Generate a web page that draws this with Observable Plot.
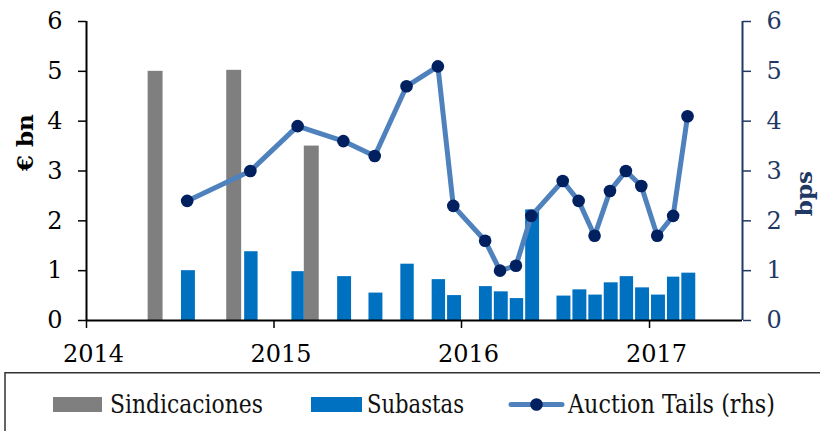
<!DOCTYPE html>
<html><head><meta charset="utf-8">
<script src="https://cdn.jsdelivr.net/npm/d3@7"></script>
<script src="https://cdn.jsdelivr.net/npm/@observablehq/plot@0.6"></script>
<style>
body{margin:0;background:#fff;width:820px;height:431px;overflow:hidden;position:relative;font-family:"DejaVu Serif",serif;}
#legend{position:absolute;left:0;top:372px;}
</style></head><body>
<div id="chart"></div>
<div id="legend"></div>
<script>
// ---- data ----
const sindMonths = ["2014-05", "2014-10", "2015-03"];
const sindValues = [5.0, 5.02, 3.5];
const subMonths = ["2014-07","2014-11","2015-02","2015-05","2015-07","2015-09","2015-11","2015-12",
  "2016-02","2016-03","2016-04","2016-05","2016-07","2016-08","2016-09","2016-10","2016-11","2016-12",
  "2017-01","2017-02","2017-03"];
const subValues = [1.0, 1.38, 0.98, 0.88, 0.55, 1.13, 0.82, 0.50, 0.68, 0.575, 0.44, 2.22, 0.49, 0.615,
  0.51, 0.756, 0.88, 0.655, 0.51, 0.87, 0.95];
const tailMonths = subMonths;
const tailValues = [2.4, 3.0, 3.9, 3.6, 3.3, 4.7, 5.1, 2.3, 1.6, 1.0, 1.1, 2.1, 2.8, 2.4, 1.7, 2.6, 3.0,
  2.7, 1.7, 2.1, 4.1];
const yearTicks = [2014, 2015, 2016, 2017];
const yTicks = [0, 1, 2, 3, 4, 5, 6];
const legendLabels = ["Sindicaciones", "Subastas", "Auction Tails (rhs)"];
const axisLabels = {left: "€ bn", right: "bps"};

// ---- build ----
const parse = d3.utcParse("%Y-%m");
const sind = sindMonths.map((m, i) => ({start: parse(m), end: d3.utcMonth.offset(parse(m), 1), value: sindValues[i]}));
const sub = subMonths.map((m, i) => ({start: parse(m), end: d3.utcMonth.offset(parse(m), 1), value: subValues[i]}));
const tails = tailMonths.map((m, i) => ({date: d3.utcDay.offset(parse(m), 15), value: tailValues[i]}));
const xDomain = [new Date(Date.UTC(2014, 0, 1)), new Date(Date.UTC(2017, 6, 1))];
const xTickDates = yearTicks.map(y => new Date(Date.UTC(y, 0, 1)));

const GRAY = "#7F7F7F", BLUE = "#0070C0", LINE = "#4F81BD", DOT = "#002060", NAVY = "#1F3864";
const FS = 24;

const chart = Plot.plot({
  width: 820, height: 372,
  marginLeft: 86, marginRight: 78, marginTop: 21, marginBottom: 52,
  style: {fontFamily: "DejaVu Serif, serif", fontSize: FS + "px", background: "white", overflow: "visible"},
  x: {type: "utc", domain: xDomain},
  y: {domain: [0, 6]},
  marks: [
    Plot.rectY(sind, {x1: "start", x2: "end", y: "value", fill: GRAY, insetRight: 1}),
    Plot.rectY(sub, {x1: "start", x2: "end", y: "value", fill: BLUE, insetLeft: 2}),
    Plot.line(tails, {x: "date", y: "value", stroke: LINE, strokeWidth: 5}),
    Plot.dot(tails, {x: "date", y: "value", r: 6.3, fill: DOT, stroke: "none"}),
    Plot.ruleY([0], {stroke: "black", strokeWidth: 2}),
    Plot.ruleX([xDomain[0]], {stroke: "black", strokeWidth: 2}),
    Plot.ruleX([xDomain[1]], {stroke: NAVY, strokeWidth: 2}),
    Plot.axisX({ticks: xTickDates, tickFormat: () => "", tickSize: 8, label: null, color: "black", strokeWidth: 1.5}),
    Plot.axisX({ticks: xTickDates, tickFormat: "%Y", tickSize: 0, tickPadding: 24, dx: 7, label: null, color: "black", fontSize: FS}),
    Plot.axisY({anchor: "left", ticks: yTicks, tickFormat: "d", tickSize: 8, tickPadding: 16, label: null, color: "black", strokeWidth: 1.5, fontSize: FS}),
    Plot.axisY({anchor: "right", ticks: yTicks, tickFormat: "d", tickSize: 8, tickPadding: 16, label: null, color: NAVY, strokeWidth: 1.5, fontSize: FS}),
    Plot.text([axisLabels.left], {text: d => d, frameAnchor: "left", dx: -61, rotate: -90, fontWeight: "bold", fontSize: 23, fill: "black"}),
    Plot.text([axisLabels.right], {text: d => d, frameAnchor: "right", dx: 62, rotate: -90, fontWeight: "bold", fontSize: 23, fill: NAVY})
  ]
});
document.getElementById("chart").append(chart);

// ---- legend ----
const lg = d3.select("#legend").append("svg").attr("width", 820).attr("height", 59);
lg.append("rect").attr("x", 5).attr("y", 0.75).attr("width", 900).attr("height", 100)
  .attr("fill", "none").attr("stroke", "#333").attr("stroke-width", 1.5);
const items = [
  {label: legendLabels[0], kind: "rect", color: GRAY, sx: 53, sw: 49, tx: 110, tw: 153},
  {label: legendLabels[1], kind: "rect", color: BLUE, sx: 311, sw: 51, tx: 367, tw: 97},
  {label: legendLabels[2], kind: "line", color: LINE, sx: 509, sw: 55, tx: 568, tw: 207}
];
for (const it of items) {
  if (it.kind === "rect") {
    lg.append("rect").attr("x", it.sx).attr("y", 25).attr("width", it.sw).attr("height", 15).attr("fill", it.color);
  } else {
    lg.append("line").attr("x1", it.sx + 2).attr("x2", it.sx + it.sw - 2).attr("y1", 32.5).attr("y2", 32.5)
      .attr("stroke", it.color).attr("stroke-width", 5).attr("stroke-linecap", "round");
    lg.append("circle").attr("cx", it.sx + it.sw / 2).attr("cy", 32.5).attr("r", 6.3).attr("fill", DOT);
  }
  lg.append("text").attr("x", it.tx).attr("y", 41).attr("font-family", "DejaVu Serif, serif").attr("font-size", 26)
    .attr("textLength", it.tw).attr("lengthAdjust", "spacingAndGlyphs").attr("fill", "#111").text(it.label);
}
</script>
</body></html>
